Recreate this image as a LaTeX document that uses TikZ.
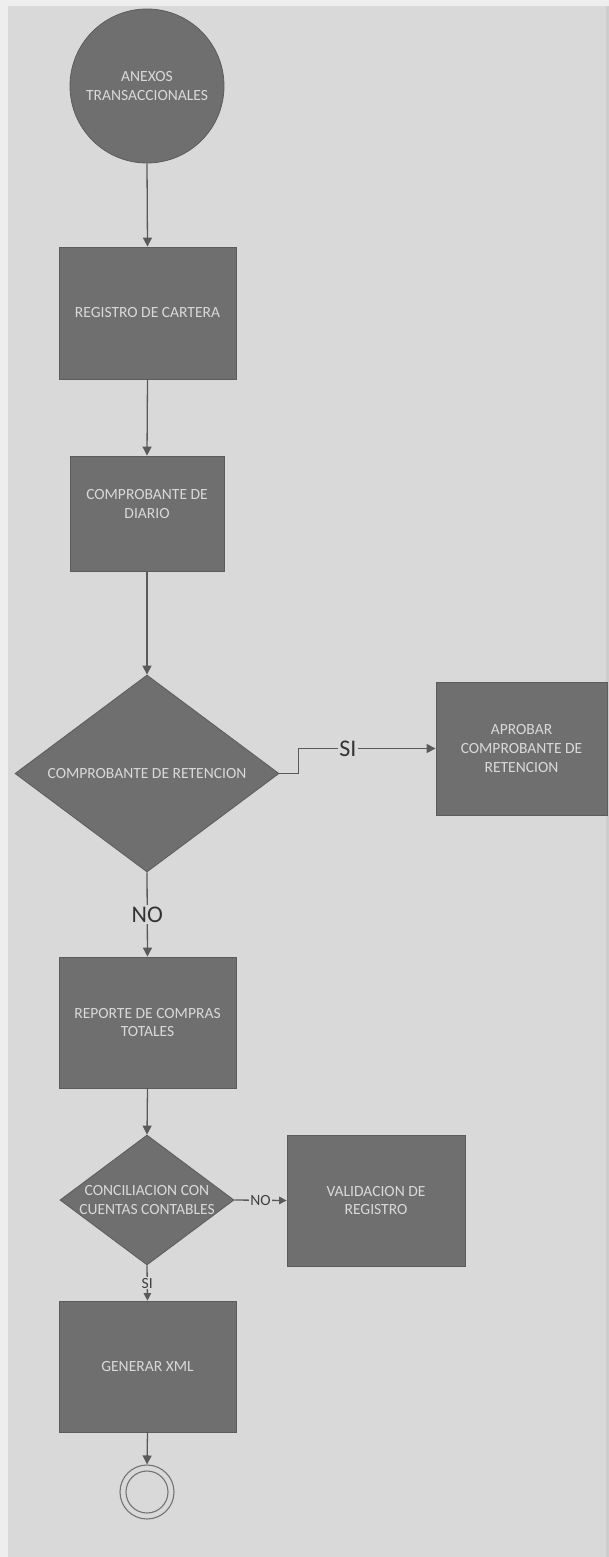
\documentclass[tikz,border=0pt]{standalone}
\usepackage{fontspec}
\setmainfont{Carlito}
\usetikzlibrary{shapes.geometric,arrows.meta}
\definecolor{bg}{HTML}{D9D9D9}
\definecolor{rim}{HTML}{EEEEEE}
\definecolor{rimdark}{HTML}{CDCDCD}
\definecolor{shapefill}{HTML}{6F6F6F}
\definecolor{shapeline}{HTML}{5C5C5C}
\definecolor{txt}{HTML}{D9D9D9}
\definecolor{wire}{HTML}{5A5A5A}

\begin{document}
\begin{tikzpicture}[x=1bp,y=-1bp,
  every node/.style={font=\fontsize{15.6}{18.8}\selectfont},
  box/.style={rectangle, draw=shapeline, line width=0.8bp, fill=shapefill,
              text=txt, align=center, inner sep=0pt},
  startnode/.style={circle, draw=shapeline, line width=0.8bp, fill=shapefill,
              text=txt, align=center, inner sep=0pt, minimum size=154bp},
  decision/.style={diamond, draw=shapeline, line width=0.8bp, fill=shapefill,
              inner sep=0pt},
  inner/.style={text=txt, align=center, inner sep=0pt},
  flow/.style={draw=wire, line width=1.3bp, -{Triangle[width=9bp,length=9bp]}},
  smallflow/.style={draw=wire, line width=1.3bp, -{Triangle[width=7.5bp,length=7.5bp]}},
  biglbl/.style={fill=bg, text=black!80, inner sep=1.5bp,
              font=\fontsize{24}{28}\selectfont},
  smalllbl/.style={fill=bg, text=black!75, inner sep=1bp},
  endring/.style={circle, draw=wire!85, line width=1.1bp, fill=bg, inner sep=0pt}
]
% page background with its light rim
\fill[rim] (0,0) rectangle (609,1557);
\fill[bg] (8,6) rectangle (609,1557);
\fill[rimdark] (606,6) rectangle (609,1557);
\useasboundingbox (0,0) rectangle (609,1557);

% main column
\node[startnode] (start) at (147,86) {ANEXOS\\TRANSACCIONALES};
\node[box, minimum width=177bp, minimum height=132bp] (reg) at (147.5,313)
  {REGISTRO DE CARTERA};
\node[box, minimum width=154bp, minimum height=115bp] (diario) at (147,513.5) {};
\node[inner] (diariotxt) at (147,504) {COMPROBANTE DE\\DIARIO};

\node[decision, minimum width=264bp, minimum height=197bp] (dec1) at (147,773.5) {};
\node[inner] (dec1txt) at (dec1.center) {COMPROBANTE DE RETENCION};

\node[box, minimum width=171bp, minimum height=133bp] (aprobar) at (521.5,748.5)
  {APROBAR\\COMPROBANTE DE\\RETENCION};

\node[box, minimum width=177bp, minimum height=131bp] (reporte) at (147.5,1022.5)
  {REPORTE DE COMPRAS\\TOTALES};

\node[decision, minimum width=174bp, minimum height=130bp] (dec2) at (147,1200) {};
\node[inner] (dec2txt) at (dec2.center) {CONCILIACION CON\\CUENTAS CONTABLES};

\node[box, minimum width=178bp, minimum height=131bp] (valid) at (376,1200.5)
  {VALIDACION DE\\REGISTRO};

\node[box, minimum width=177bp, minimum height=131bp] (generar) at (147.5,1366.5)
  {GENERAR XML};

\node[endring, minimum size=54bp] (fin) at (147,1492) {};
\node[endring, minimum size=42bp] (fininner) at (fin.center) {};

% connectors
\draw[flow] (start.south) -- (reg.north);
\draw[flow] (reg.south) -- (diario.north);
\draw[flow] (diario.south) -- (dec1.north);
\draw[flow] (dec1.east) -- ++(19,0) |- node[biglbl, pos=0.68] {SI} (aprobar.west);
\draw[flow] (dec1.south) -- node[biglbl, pos=0.5] {NO} (reporte.north);
\draw[flow] (reporte.south) -- (dec2.north);
\draw[smallflow] (dec2.east) -- node[smalllbl, pos=0.5] {NO} (valid.west);
\draw[smallflow] (dec2.south) -- node[smalllbl, pos=0.5] {SI} (generar.north);
\draw[flow] (generar.south) -- (fin.north);
\end{tikzpicture}
\end{document}
